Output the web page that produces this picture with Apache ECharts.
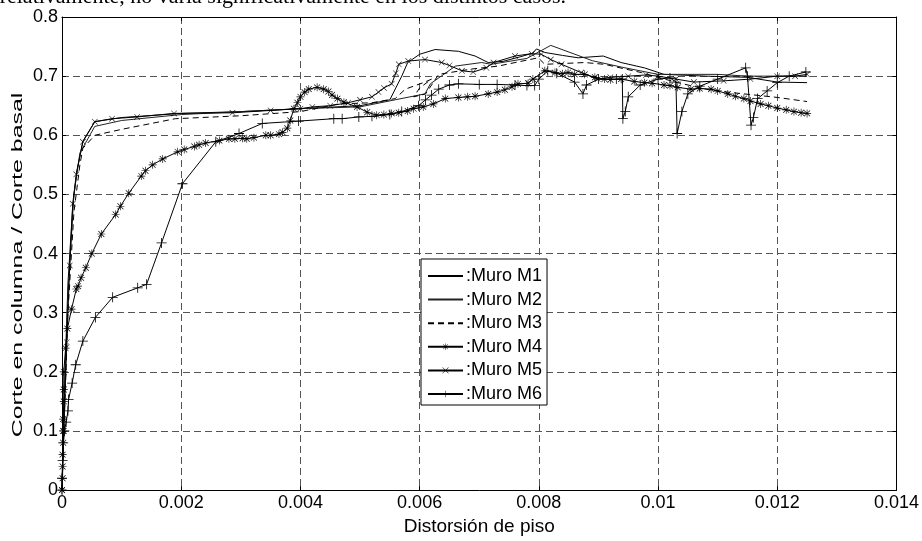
<!DOCTYPE html>
<html><head><meta charset="utf-8">
<script src="https://cdn.jsdelivr.net/npm/echarts@6/dist/echarts.min.js"></script>
<style>html,body{margin:0;padding:0;background:#fff}#c{width:922px;height:541px}</style>
</head><body><div id="c"></div>
<script>
const xTicks = [0, 0.002, 0.004, 0.006, 0.008, 0.01, 0.012, 0.014];
const yTicks = [0, 0.1, 0.2, 0.3, 0.4, 0.5, 0.6, 0.7, 0.8];
const seriesNames = [':Muro M1', ':Muro M2', ':Muro M3', ':Muro M4', ':Muro M5', ':Muro M6'];
const headerText = 'relativamente, no varía significativamente en los distintos casos.';
const xTitle = 'Distorsión de piso';
const yTitle = 'Corte en columna / Corte basal';

const m1 = [[0,0],[0.00005,0.2],[0.0001,0.35],[0.00018,0.48],[0.00025,0.54],[0.00035,0.59],[0.00055,0.623],[0.001,0.63],[0.002,0.637],[0.003,0.64],[0.004,0.645],[0.005,0.65],[0.0055,0.66],[0.0057,0.7],[0.0058,0.723],[0.006,0.737],[0.00626,0.745],[0.00665,0.742],[0.00693,0.734],[0.00715,0.723],[0.0074,0.725],[0.0077,0.733],[0.0079,0.739],[0.00796,0.746],[0.0081,0.74],[0.0084,0.735],[0.00866,0.731],[0.00908,0.734],[0.00938,0.723],[0.00977,0.714],[0.0101,0.703],[0.0108,0.7],[0.0115,0.698],[0.012,0.69],[0.0125,0.689]];
const m2 = [[0,0],[0.00005,0.18],[0.0001,0.33],[0.0002,0.5],[0.0003,0.57],[0.00055,0.615],[0.001,0.625],[0.002,0.635],[0.003,0.64],[0.004,0.645],[0.005,0.648],[0.00559,0.66],[0.00609,0.67],[0.00618,0.687],[0.0066,0.717],[0.00704,0.723],[0.0072,0.72],[0.0078,0.73],[0.0082,0.752],[0.0089,0.726],[0.0094,0.715],[0.01,0.703],[0.0105,0.703],[0.011,0.703],[0.0115,0.7],[0.012,0.7],[0.0125,0.7]];
const m3 = [[0,0],[0.00005,0.15],[0.0001,0.3],[0.0002,0.47],[0.0003,0.55],[0.00035,0.578],[0.00055,0.6],[0.001,0.61],[0.0019,0.628],[0.003,0.633],[0.004,0.64],[0.00464,0.653],[0.0052,0.655],[0.00559,0.662],[0.00576,0.678],[0.00609,0.69],[0.0062,0.695],[0.006,0.68],[0.0059,0.665],[0.0061,0.67],[0.00632,0.703],[0.00687,0.712],[0.00732,0.717],[0.00765,0.724],[0.00799,0.731],[0.0081,0.72],[0.00877,0.723],[0.0091,0.72],[0.00972,0.706],[0.01,0.698],[0.01033,0.689],[0.01089,0.676],[0.01144,0.67],[0.012,0.664],[0.0125,0.657]];
const m4 = [[0,0],[0.00001,0.02],[0.00001,0.04],[0.00001,0.06],[0.00002,0.08],[0.00002,0.1],[0.00002,0.12],[0.00003,0.15],[0.00003,0.17],[0.00003,0.2],[0.00006,0.24],[0.00009,0.273],[0.00016,0.306],[0.00024,0.34],[0.00027,0.345],[0.00032,0.359],[0.0004,0.376],[0.0005,0.4],[0.00066,0.433],[0.0009,0.466],[0.00098,0.48],[0.00112,0.502],[0.00133,0.531],[0.0014,0.54],[0.00152,0.55],[0.00169,0.56],[0.00194,0.572],[0.00205,0.576],[0.00222,0.581],[0.0023,0.584],[0.00241,0.587],[0.00264,0.591],[0.0028,0.594],[0.0029,0.594],[0.00303,0.595],[0.0031,0.594],[0.00322,0.596],[0.00342,0.6],[0.0035,0.6],[0.00364,0.602],[0.0037,0.605],[0.00378,0.612],[0.00383,0.625],[0.00389,0.645],[0.00395,0.655],[0.004,0.665],[0.00407,0.673],[0.00414,0.678],[0.00428,0.681],[0.00439,0.678],[0.00447,0.674],[0.00453,0.668],[0.00462,0.662],[0.00473,0.656],[0.00495,0.648],[0.00512,0.639],[0.00528,0.634],[0.0054,0.635],[0.00553,0.637],[0.00565,0.638],[0.0058,0.641],[0.0059,0.645],[0.00606,0.648],[0.00623,0.653],[0.00643,0.662],[0.00665,0.664],[0.0068,0.665],[0.00693,0.666],[0.00715,0.67],[0.0073,0.673],[0.00743,0.677],[0.00755,0.682],[0.00765,0.687],[0.00782,0.688],[0.0079,0.695],[0.0081,0.709],[0.00827,0.706],[0.0084,0.704],[0.00849,0.706],[0.0086,0.703],[0.00877,0.703],[0.00894,0.698],[0.0091,0.695],[0.0092,0.694],[0.00938,0.695],[0.0096,0.691],[0.00977,0.689],[0.0099,0.688],[0.0101,0.685],[0.0102,0.684],[0.01033,0.681],[0.01055,0.678],[0.0107,0.679],[0.01089,0.678],[0.011,0.675],[0.01117,0.67],[0.0113,0.666],[0.01144,0.662],[0.01155,0.658],[0.01172,0.653],[0.01185,0.65],[0.012,0.646],[0.01215,0.643],[0.01228,0.64],[0.0124,0.638],[0.0125,0.637]];
const m5 = [[0,0],[0.00003,0.1],[0.00008,0.25],[0.00013,0.38],[0.00018,0.484],[0.00024,0.534],[0.00035,0.589],[0.00055,0.623],[0.00084,0.628],[0.00126,0.631],[0.00188,0.637],[0.00286,0.638],[0.0035,0.642],[0.004,0.645],[0.0042,0.648],[0.0045,0.65],[0.0048,0.655],[0.005,0.66],[0.0052,0.665],[0.00531,0.673],[0.0054,0.68],[0.00553,0.687],[0.0056,0.705],[0.00565,0.72],[0.00581,0.7255],[0.00609,0.728],[0.00637,0.723],[0.0065,0.718],[0.00671,0.709],[0.0069,0.707],[0.00712,0.714],[0.00724,0.723],[0.0076,0.734],[0.00788,0.738],[0.00804,0.737],[0.0082,0.728],[0.00838,0.72],[0.00871,0.706],[0.00899,0.695],[0.0092,0.698],[0.0095,0.7],[0.0098,0.702],[0.01,0.7],[0.0103,0.695],[0.0106,0.69],[0.0111,0.692],[0.01155,0.695],[0.012,0.7],[0.0123,0.7],[0.0125,0.703]];
const m6 = [[0,0],[0,0.02],[0.00001,0.05],[0.00002,0.08],[0.00004,0.1],[0.00007,0.115],[0.0001,0.134],[0.00011,0.153],[0.00017,0.181],[0.00023,0.212],[0.00035,0.252],[0.00056,0.292],[0.00085,0.326],[0.00127,0.342],[0.00142,0.348],[0.00167,0.418],[0.00202,0.518],[0.00258,0.589],[0.00297,0.603],[0.00336,0.62],[0.00397,0.624],[0.00456,0.628],[0.0047,0.628],[0.00498,0.631],[0.0052,0.632],[0.0055,0.635],[0.0057,0.64],[0.00598,0.65],[0.0061,0.66],[0.0062,0.668],[0.00632,0.678],[0.0065,0.685],[0.00665,0.687],[0.007,0.686],[0.0073,0.686],[0.0076,0.685],[0.0078,0.684],[0.00793,0.684],[0.008,0.695],[0.00815,0.709],[0.0083,0.705],[0.0086,0.69],[0.00874,0.67],[0.0088,0.685],[0.009,0.695],[0.0093,0.695],[0.0094,0.695],[0.00941,0.628],[0.00945,0.64],[0.0095,0.665],[0.0097,0.685],[0.01,0.695],[0.0102,0.697],[0.0103,0.69],[0.01032,0.603],[0.0104,0.64],[0.0105,0.67],[0.0107,0.683],[0.011,0.695],[0.01147,0.714],[0.0115,0.7],[0.01156,0.617],[0.0116,0.63],[0.01167,0.662],[0.01183,0.675],[0.012,0.689],[0.0122,0.7],[0.01248,0.707]];

const PLUS = 'path://M0,4.6H10V5.4H0Z M4.6,0H5.4V10H4.6Z';
const CROSS = 'path://M0,0.6L0.6,0L10,9.4L9.4,10Z M9.4,0L10,0.6L0.6,10L0,9.4Z';
const STAR = 'path://M0,4.6H10V5.4H0Z M4.6,0H5.4V10H4.6Z M1,1.6L1.6,1L9,8.4L8.4,9Z M8.4,1L9,1.6L1.6,9L1,8.4Z';

function fmt(v){ return String(parseFloat(v.toFixed(6))); }

const chart = echarts.init(document.getElementById('c'), null, {renderer:'canvas'});
const FONT = 'Liberation Sans';
const FS = 18;
const gridLine = {show:true, lineStyle:{color:'#555', width:1, type:[7,4]}};
function lineSeries(name, data, extra){
  return Object.assign({
    name, type:'line', data, xAxisIndex:0, yAxisIndex:0,
    symbol:'circle', showSymbol:false, lineStyle:{color:'#000', width:1}, itemStyle:{color:'#000', opacity:0},
    emphasis:{disabled:true}, z:3
  }, extra||{});
}
chart.setOption({
  animation:false,
  backgroundColor:'#fff',
  graphic:[
    {type:'text', x:566, y:8, style:{text:headerText, font:'22px "Liberation Serif"', fill:'#000', align:'right', verticalAlign:'bottom'}},
    {type:'text', x:18, y:265, rotation:Math.PI/2, scaleX:1.66, style:{text:yTitle, font:'15px "Liberation Sans"', fill:'#000', align:'center', verticalAlign:'middle'}}
  ],
  grid:{left:62, right:23, top:17, bottom:44, containLabel:false},
  legend:{
    show:true, orient:'vertical', left:421, top:259,
    data:seriesNames,
    backgroundColor:'#fff', borderColor:'#000', borderWidth:1,
    padding:[8,5,2,6], itemWidth:35, itemHeight:8, itemGap:5.6,
    textStyle:{fontFamily:FONT, fontSize:FS, color:'#000', padding:[0,0,0,-2]}
  },
  xAxis:[{
    type:'value', min:0, max:0.014, interval:0.002, position:'bottom',
    axisLine:{show:true, onZero:false, lineStyle:{color:'#000', width:1}},
    axisTick:{show:true, inside:true, length:4, lineStyle:{color:'#000'}},
    axisLabel:{formatter:fmt, fontFamily:FONT, fontSize:FS, color:'#000', margin:4},
    splitLine:gridLine,
    name:xTitle, nameLocation:'middle', nameGap:22,
    nameTextStyle:{fontFamily:FONT, fontSize:19, color:'#000'}
  },{
    type:'value', min:0, max:0.014, interval:0.002, position:'top',
    axisLine:{show:true, onZero:false, lineStyle:{color:'#000', width:1}},
    axisTick:{show:true, inside:true, length:4, lineStyle:{color:'#000'}},
    axisLabel:{show:false}, splitLine:{show:false}
  }],
  yAxis:[{
    type:'value', min:0, max:0.8, interval:0.1, position:'left',
    axisLine:{show:true, onZero:false, lineStyle:{color:'#000', width:1}},
    axisTick:{show:true, inside:true, length:4, lineStyle:{color:'#000'}},
    axisLabel:{formatter:fmt, fontFamily:FONT, fontSize:FS, color:'#000', margin:4},
    splitLine:gridLine
  },{
    type:'value', min:0, max:0.8, interval:0.1, position:'right',
    axisLine:{show:true, onZero:false, lineStyle:{color:'#000', width:1}},
    axisTick:{show:true, inside:true, length:4, lineStyle:{color:'#000'}},
    axisLabel:{show:false}, splitLine:{show:false}
  }],
  series:[
    lineSeries(seriesNames[0], m1),
    lineSeries(seriesNames[1], m2, {lineStyle:{color:'#222', width:1}}),
    lineSeries(seriesNames[2], m3, {lineStyle:{color:'#000', width:1, type:[6,4]}}),
    lineSeries(seriesNames[3], m4, {symbol:STAR, symbolSize:8, showSymbol:true, itemStyle:{color:'#000'}}),
    lineSeries(seriesNames[4], m5, {symbol:CROSS, symbolSize:6, showSymbol:true, itemStyle:{color:'#000'}}),
    lineSeries(seriesNames[5], m6, {symbol:PLUS, symbolSize:10, showSymbol:true, itemStyle:{color:'#000'}})
  ]
});
</script></body></html>
